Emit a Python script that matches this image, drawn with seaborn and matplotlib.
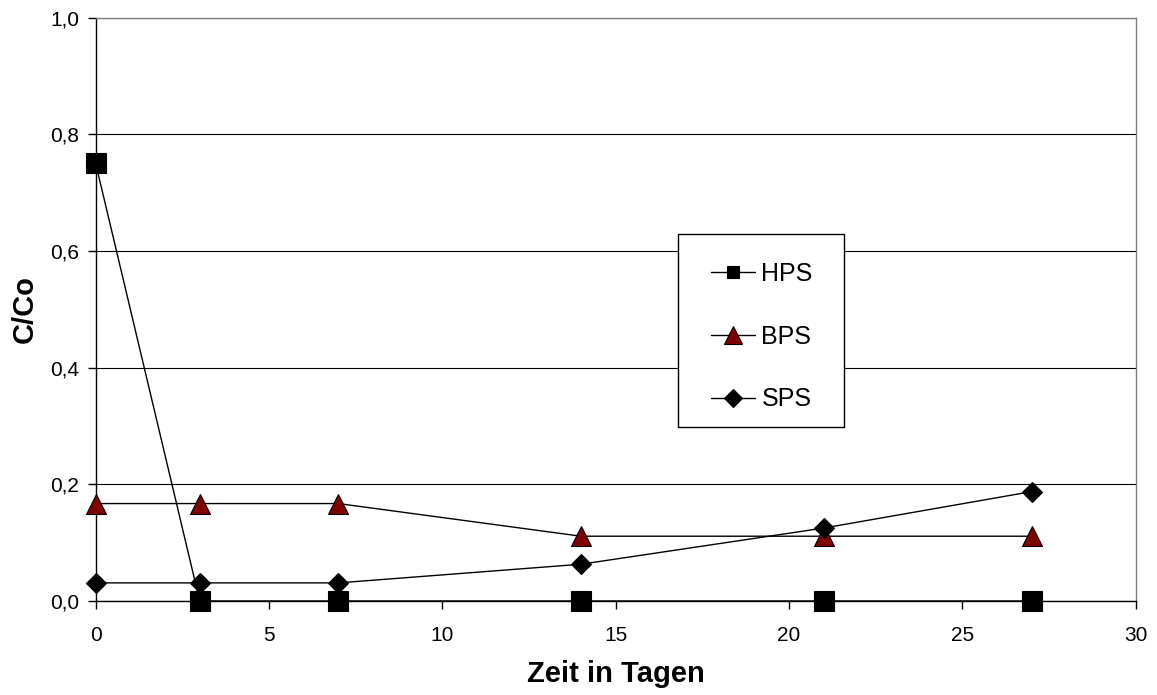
import matplotlib
matplotlib.use("Agg")
import matplotlib.pyplot as plt
from matplotlib.lines import Line2D
from matplotlib.patches import Rectangle
import seaborn as sns

# Measured concentrations (C/Co) over time in days
days = [0, 3, 7, 14, 21, 27]
hps = [0.75, 0.0, 0.0, 0.0, 0.0, 0.0]
bps = [0.167, 0.167, 0.167, 0.111, 0.111, 0.111]
sps = [0.031, 0.031, 0.031, 0.063, 0.125, 0.1875]
series_names = ["HPS", "BPS", "SPS"]

x_ticks = [0, 5, 10, 15, 20, 25, 30]
y_ticks = [0.0, 0.2, 0.4, 0.6, 0.8, 1.0]
y_tick_labels = ["0,0", "0,2", "0,4", "0,6", "0,8", "1,0"]

sns.set_theme(style="white")
plt.rcParams["font.family"] = ["Liberation Sans", "DejaVu Sans"]
plt.rcParams["text.color"] = "black"

fig = plt.figure(figsize=(11.57, 6.95), dpi=100)
ax = fig.add_axes([0.0827, 0.1353, 0.8989, 0.8393])

styles = {
    "HPS": dict(marker="s", markersize=14.4, markerfacecolor="black"),
    "BPS": dict(marker="^", markersize=14.4, markerfacecolor="#800000"),
    "SPS": dict(marker="D", markersize=10.2, markerfacecolor="black"),
}
legend_sizes = {"HPS": 9.2, "BPS": 13.0, "SPS": 9.2}

for name, values in zip(series_names, [hps, bps, sps]):
    sns.lineplot(
        x=days, y=values, ax=ax, color="black", linewidth=1.0,
        markeredgecolor="black", markeredgewidth=0.8,
        clip_on=False, zorder=5, legend=False, **styles[name],
    )

ax.set_xlim(0, 30)
ax.set_ylim(0, 1.0)
ax.set_xticks(x_ticks)
ax.set_xticklabels([str(t) for t in x_ticks])
ax.set_yticks(y_ticks)
ax.set_yticklabels(y_tick_labels)

ax.yaxis.grid(True, color="black", linewidth=0.8)
ax.xaxis.grid(False)
ax.set_axisbelow(True)

for side in ["left", "bottom"]:
    ax.spines[side].set_color("black")
    ax.spines[side].set_linewidth(1.0)
for side in ["top", "right"]:
    ax.spines[side].set_color("#808080")
    ax.spines[side].set_linewidth(1.0)

ax.tick_params(axis="both", which="major", bottom=True, left=True,
               direction="out", length=6, width=1.0, color="black",
               labelsize=15, labelcolor="black")
ax.tick_params(axis="x", pad=12)
ax.tick_params(axis="y", pad=6)

ax.set_xlabel("Zeit in Tagen", fontsize=21, fontweight="bold", labelpad=11,
              color="black")
ax.set_ylabel("C/Co", fontsize=21, fontweight="bold", labelpad=8,
              color="black")

# Legend box with its entries centred inside
box = Rectangle((0.5596, 0.2988), 0.1602, 0.3299, transform=ax.transAxes,
                facecolor="white", edgecolor="black", linewidth=1.0,
                zorder=8)
ax.add_patch(box)

handles = []
for name in series_names:
    st = styles[name]
    handles.append(Line2D([], [], color="black", linewidth=1.0,
                          marker=st["marker"], markersize=legend_sizes[name],
                          markerfacecolor=st["markerfacecolor"],
                          markeredgecolor="black", markeredgewidth=0.8))
leg = ax.legend(handles, series_names, loc="center",
                bbox_to_anchor=(0.6407, 0.4531), frameon=False,
                fontsize=18, handlelength=1.75, handletextpad=0.25,
                labelspacing=1.55, borderpad=0.0, labelcolor="black")
leg.set_zorder(9)

fig.savefig("out.png", dpi=100)
